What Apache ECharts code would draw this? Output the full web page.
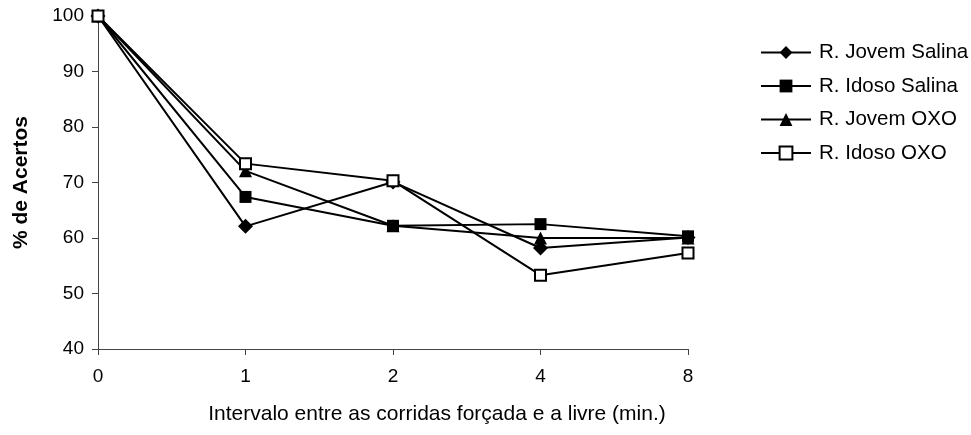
<!DOCTYPE html>
<html><head><meta charset="utf-8">
<script src="https://cdn.jsdelivr.net/npm/echarts@6/dist/echarts.min.js"></script>
<style>html,body{margin:0;padding:0;background:#fff}#c{width:971px;height:435px}</style>
</head><body><div id="c"></div>
<script>
const categories = ['0', '1', '2', '4', '8'];
const jovemSalina = [100, 62.1, 70.1, 58.2, 60.1];
const idosoSalina = [100, 67.4, 62.2, 62.5, 60.3];
const jovemOXO = [100, 72.1, 62.2, 60.0, 60.0];
const idosoOXO = [100, 73.4, 70.3, 53.3, 57.3];
const seriesNames = ['R. Jovem Salina', 'R. Idoso Salina', 'R. Jovem OXO', 'R. Idoso OXO'];
const yTicks = [40, 50, 60, 70, 80, 90, 100];

const font = 'Liberation Sans, Arial, sans-serif';
function mk(name, data, symbol, size, hollow) {
  return {
    name, type: 'line', data, symbol, symbolSize: size,
    showAllSymbol: true,
    lineStyle: { color: '#000', width: 2 },
    itemStyle: hollow ? { color: '#fff', borderColor: '#000', borderWidth: 2 } : { color: '#000', borderColor: '#000', borderWidth: 0 },
    emphasis: { disabled: true },
    z: 3
  };
}
const chart = echarts.init(document.getElementById('c'), null, { renderer: 'canvas' });
chart.setOption({
  animation: false,
  backgroundColor: '#fff',
  textStyle: { fontFamily: font },
  grid: { left: 98, right: 283, top: 16, bottom: 86 },
  legend: {
    orient: 'vertical', left: 760, top: 42, padding: 0,
    itemWidth: 50, itemHeight: 16, itemGap: 12.5,
    textStyle: { fontFamily: font, fontSize: 20.5, lineHeight: 20, color: '#000', padding: [0, 0, 0, 3] },
    data: seriesNames
  },
  xAxis: {
    type: 'category', data: categories, boundaryGap: false,
    name: 'Intervalo entre as corridas forçada e a livre (min.)',
    nameLocation: 'middle', nameGap: 55,
    nameTextStyle: { fontFamily: font, fontSize: 21, color: '#000', padding: [0, 0, 0, 88] },
    axisLine: { lineStyle: { color: '#444', width: 1 } },
    axisTick: { show: true, alignWithLabel: true, length: 6, lineStyle: { color: '#444' } },
    axisLabel: { fontFamily: font, fontSize: 19, color: '#000', margin: 18 },
    splitLine: { show: false }
  },
  yAxis: {
    type: 'value', min: yTicks[0], max: yTicks[yTicks.length - 1], interval: 10,
    name: '% de Acertos', nameLocation: 'middle', nameGap: 66, nameRotate: 90,
    nameTextStyle: { fontFamily: font, fontSize: 21, fontWeight: 'bold', color: '#000' },
    axisLine: { show: true, lineStyle: { color: '#444', width: 1 } },
    axisTick: { show: true, length: 6, lineStyle: { color: '#444' } },
    axisLabel: { fontFamily: font, fontSize: 19, color: '#000', margin: 14 },
    splitLine: { show: false }
  },
  series: [
    mk(seriesNames[0], jovemSalina, 'diamond', 15, false),
    mk(seriesNames[1], idosoSalina, 'rect', 12, false),
    mk(seriesNames[2], jovemOXO, 'triangle', 13, false),
    mk(seriesNames[3], idosoOXO, 'rect', 11, true)
  ]
});
</script></body></html>
